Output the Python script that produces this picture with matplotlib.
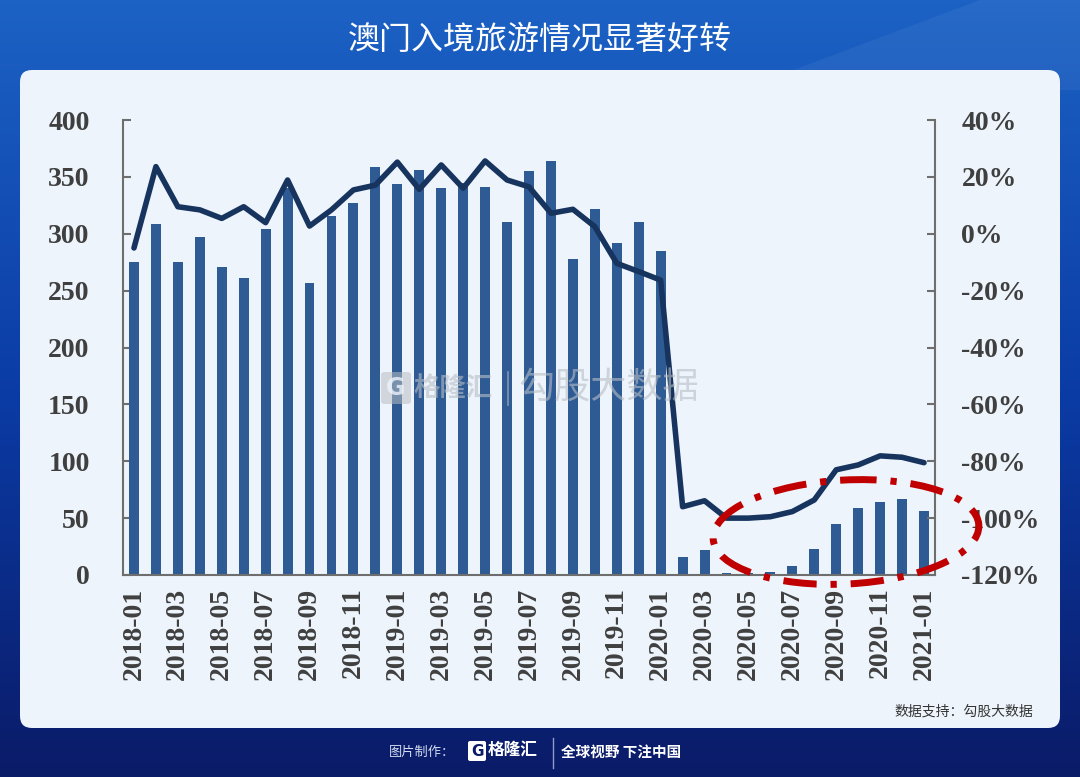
import numpy as np
import matplotlib
matplotlib.use("Agg")
import matplotlib.pyplot as plt
from matplotlib.patches import FancyBboxPatch, Ellipse, Polygon
from matplotlib.ticker import FuncFormatter

# ---------------- data ----------------
months = ["2018-01", "2018-02", "2018-03", "2018-04", "2018-05", "2018-06", "2018-07", "2018-08",
          "2018-09", "2018-10", "2018-11", "2018-12", "2019-01", "2019-02", "2019-03", "2019-04",
          "2019-05", "2019-06", "2019-07", "2019-08", "2019-09", "2019-10", "2019-11", "2019-12",
          "2020-01", "2020-02", "2020-03", "2020-04", "2020-05", "2020-06", "2020-07", "2020-08",
          "2020-09", "2020-10", "2020-11", "2020-12", "2021-01"]
visitors = [275, 309, 275, 297, 271, 261, 304, 340, 257, 316, 327, 359, 344, 356, 340, 345,
            341, 310, 355, 364, 278, 322, 292, 310, 285, 16, 22, 2, 1.5, 2.3, 8, 23,
            45, 59, 64, 67, 56]
yoy_pct = [-5.0, 23.6, 9.5, 8.4, 5.4, 9.5, 3.9, 18.9, 2.7, 8.4, 15.4, 17.1, 25.2, 15.6, 24.2, 16.0,
           25.6, 18.9, 16.5, 7.2, 8.6, 2.5, -10.4, -13.3, -16.3, -96.0, -93.9, -100.0, -100.0, -99.5,
           -97.7, -93.6, -83.0, -81.3, -78.1, -78.6, -80.5]
left_ticks = [0, 50, 100, 150, 200, 250, 300, 350, 400]
right_ticks = [-120, -100, -80, -60, -40, -20, 0, 20, 40]

title = "澳门入境旅游情况显著好转"
source = "数据支持：勾股大数据"

W, H = 1080, 777
CJK = ["Noto Sans CJK SC", "DejaVu Sans"]
SERIF = ["Liberation Serif", "DejaVu Serif"]

fig = plt.figure(figsize=(W / 100, H / 100), dpi=100)

# ---------------- background ----------------
bg = fig.add_axes([0, 0, 1, 1], zorder=-10)
bg.set_xlim(0, W)
bg.set_ylim(H, 0)
bg.axis("off")
top = np.array([0x1c, 0x62, 0xc4]) / 255
mid = np.array([0x0b, 0x3c, 0xa6]) / 255
bot = np.array([0x0a, 0x1b, 0x68]) / 255
t = np.linspace(0, 1, 256)[:, None]
grad = np.where(t < 0.5, top + (mid - top) * (t / 0.5), mid + (bot - mid) * ((t - 0.5) / 0.5))
grad = grad[:, None, :].repeat(2, axis=1)
bg.imshow(grad, extent=[0, W, H, 0], aspect="auto", zorder=0)
bg.add_patch(Polygon([[980, 0], [W, 0], [W, 90], [740, 90]], closed=True,
                     facecolor="white", alpha=0.05, edgecolor="none", zorder=1))
bg.add_patch(FancyBboxPatch((20, 70), 1040, 658, boxstyle="round,pad=0,rounding_size=12",
                            facecolor="#EDF4FB", edgecolor="none", zorder=2))
bg.text(540, 40, title, color="white", fontsize=23, fontweight="medium", family=CJK,
        ha="center", va="center", zorder=3)
bg.text(1033, 712, source, color="#333333", fontsize=10, family=CJK,
        ha="right", va="center", zorder=3)
# footer
bg.text(455, 752, "图片制作：", color="#D4DBEF", fontsize=9.5, family=CJK,
        ha="right", va="center", zorder=3)
bg.add_patch(FancyBboxPatch((468, 741), 18, 20, boxstyle="round,pad=0,rounding_size=2",
                            facecolor="white", edgecolor="none", zorder=3))
bg.text(477, 751, "G", color="#0a1b68", fontsize=11, fontweight="bold",
        ha="center", va="center", zorder=4)
bg.text(488, 750, "格隆汇", color="white", fontsize=12, fontweight="bold", family=CJK,
        ha="left", va="center", zorder=3)
bg.plot([553, 553], [738, 768], color="#8F9CC8", lw=1, zorder=3)
bg.text(561, 752, "全球视野 下注中国", color="white", fontsize=10.5, fontweight="bold",
        family=CJK, ha="left", va="center", zorder=3)

# ---------------- main axes ----------------
x0, x1, ytop, ybot = 123, 935, 120, 575
ax = fig.add_axes([x0 / W, 1 - ybot / H, (x1 - x0) / W, (ybot - ytop) / H])
ax.set_facecolor("none")
x = np.arange(len(months))
ax.bar(x, visitors, width=0.45, color="#2F5B95", zorder=2)
ax.set_xlim(-0.5, len(months) - 0.5)
ax.set_ylim(0, 400)
ax.set_yticks(left_ticks)
ax.set_xticks(x[::2])
ax.set_xticklabels(months[::2], rotation=90)

ax2 = ax.twinx()
ax2.plot(x, yoy_pct, color="#17345F", lw=4.0, solid_joinstyle="round",
         solid_capstyle="round", zorder=3)
ax2.set_ylim(-120, 40)
ax2.set_yticks(right_ticks)
ax2.yaxis.set_major_formatter(FuncFormatter(lambda v, p: f"{int(round(v))}%"))

spine_c = "#6E6E6E"
lab_c = "#3F3F3F"
for a in (ax, ax2):
    a.spines["top"].set_visible(False)
    for s in ("left", "right", "bottom"):
        a.spines[s].set_color(spine_c)
        a.spines[s].set_linewidth(1.5)
ax.spines["right"].set_visible(False)
ax2.spines["left"].set_visible(False)
ax2.spines["bottom"].set_visible(False)

ax.tick_params(axis="y", direction="in", length=6, width=1.5, color=spine_c,
               pad=24, labelsize=20, labelcolor=lab_c)
ax.tick_params(axis="x", length=0, pad=9, labelsize=20, labelcolor=lab_c)
ax2.tick_params(axis="y", direction="in", length=6, width=1.5, color=spine_c,
                pad=19, labelsize=20, labelcolor=lab_c)
for lbl in ax.get_yticklabels() + ax.get_xticklabels() + ax2.get_yticklabels():
    lbl.set_family(SERIF)
    lbl.set_fontweight("bold")

# ---------------- overlay: watermark + ellipse ----------------
ov = fig.add_axes([0, 0, 1, 1], zorder=10)
ov.set_xlim(0, W)
ov.set_ylim(H, 0)
ov.axis("off")
ov.set_facecolor("none")
wm_c = "#B9BEC4"
ov.add_patch(FancyBboxPatch((381, 372), 30, 32, boxstyle="round,pad=0,rounding_size=3",
                            facecolor=wm_c, edgecolor="none", alpha=0.55))
ov.text(396, 388, "G", color="#EDF4FB", fontsize=17, fontweight="bold",
        ha="center", va="center", alpha=0.8)
ov.text(413, 388, "格隆汇", color=wm_c, fontsize=19, fontweight="bold", family=CJK,
        ha="left", va="center", alpha=0.6)
ov.plot([508, 508], [372, 405], color=wm_c, lw=1.2, alpha=0.6)
ov.text(518, 388, "勾股大数据", color=wm_c, fontsize=26, family=CJK,
        ha="left", va="center", alpha=0.6)

ell = Ellipse((846, 532), 266, 104, angle=-3, fill=False, edgecolor="#C00000",
              lw=5, linestyle=(0, (4.8, 2.0, 0.9, 2.0)))
ov.add_patch(ell)

fig.savefig("out.png", dpi=100)
